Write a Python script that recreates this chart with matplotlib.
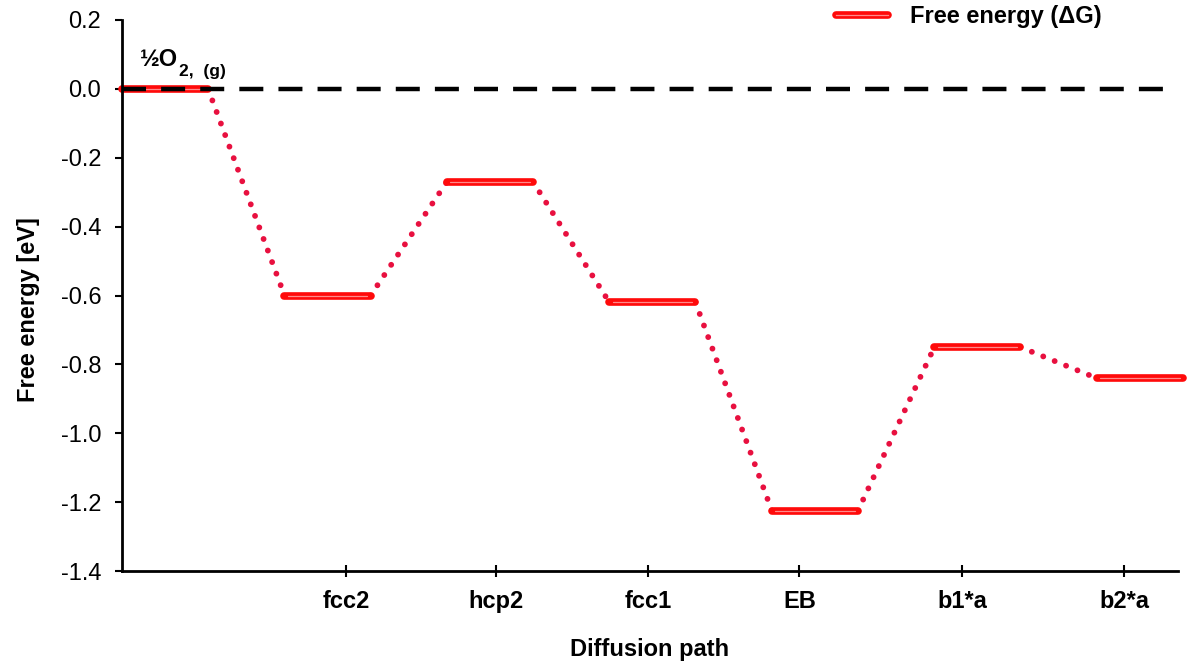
import matplotlib
matplotlib.use("Agg")
import matplotlib.pyplot as plt
from matplotlib.lines import Line2D

plt.rcParams['font.family'] = ['Liberation Sans', 'DejaVu Sans']

# Free-energy levels along the diffusion path (eV)
states = ['½O2,(g)', 'fcc2', 'hcp2', 'fcc1', 'EB', 'b1*a', 'b2*a']
energies = [0.0, -0.60, -0.27, -0.62, -1.225, -0.75, -0.84]
level_start = [0, 1, 2, 3, 4, 5, 6]
level_width = 0.53

tick_pos = [1.38, 2.30, 3.24, 4.17, 5.17, 6.17]
tick_labels = ['fcc2', 'hcp2', 'fcc1', 'EB', 'b1*a', 'b2*a']
yticks = [-1.4, -1.2, -1.0, -0.8, -0.6, -0.4, -0.2, 0.0, 0.2]

LEVEL_RED = '#ff0a0a'
LEVEL_CORE = '#ff8a8a'
DOT_RED = '#e8103f'
FS = 17

fig = plt.figure(figsize=(11.95, 6.66), dpi=100)
ax = fig.add_axes([122 / 1195, 95 / 666, 1056 / 1195, 551 / 666])

# dotted connectors between consecutive levels
for i in range(len(energies) - 1):
    x0 = level_start[i] + level_width
    x1 = level_start[i + 1]
    ax.plot([x0, x1], [energies[i], energies[i + 1]], color=DOT_RED,
            lw=4.2, linestyle=(0, (0.01, 2.1)), dash_capstyle='round',
            solid_capstyle='round', zorder=2)

# horizontal energy levels
for xs, e in zip(level_start, energies):
    ax.plot([xs, xs + level_width], [e, e], color=LEVEL_RED, lw=5.5,
            solid_capstyle='round', zorder=3, clip_on=False)
    ax.plot([xs + 0.02, xs + level_width - 0.02], [e, e], color=LEVEL_CORE,
            lw=0.9, solid_capstyle='round', zorder=4, clip_on=False)

# reference line at zero
ax.axhline(0.0, color='black', lw=3.2, linestyle=(0, (5.4, 3.4)), zorder=5)

# label of the initial state, with its subscript
main = ax.text(0.11, 0.067, '½O', fontsize=17, fontweight='bold',
               ha='left', va='baseline', zorder=6)
ax.annotate('2,  (g)', xy=(1, 0), xycoords=main, xytext=(1, -4),
            textcoords='offset points', fontsize=12.5, fontweight='bold',
            ha='left', va='baseline', zorder=6)

ax.set_xlim(0, 6.5)
ax.set_ylim(-1.4, 0.2)
ax.set_yticks(yticks)
ax.set_yticklabels([f'{v:.1f}' for v in yticks])
ax.set_xticks(tick_pos)
ax.set_xticklabels(tick_labels, fontweight='bold')

for side in ('top', 'right'):
    ax.spines[side].set_visible(False)
for side in ('left', 'bottom'):
    ax.spines[side].set_linewidth(2.0)
    ax.spines[side].set_zorder(6)

ax.tick_params(axis='y', direction='out', length=5, width=1.5,
               labelsize=FS, pad=10)
ax.tick_params(axis='x', direction='inout', length=9, width=1.5,
               labelsize=FS, pad=9)

ax.set_ylabel('Free energy [eV]', fontsize=FS, fontweight='bold')
ax.yaxis.set_label_coords(-82 / 1056, 0.475)
ax.set_xlabel('Diffusion path', fontsize=FS, fontweight='bold', labelpad=18)

h_outer = Line2D([], [], color=LEVEL_RED, lw=5.5, solid_capstyle='round')
h_inner = Line2D([], [], color=LEVEL_CORE, lw=0.9)
fig.legend([(h_outer, h_inner)], ['Free energy (ΔG)'], loc='center left',
           bbox_to_anchor=(836 / 1195, 1 - 17 / 666), frameon=False,
           borderpad=0, borderaxespad=0, handlelength=2.2, handletextpad=0.95,
           prop={'weight': 'bold', 'size': FS})

fig.savefig('out.png', dpi=100)
